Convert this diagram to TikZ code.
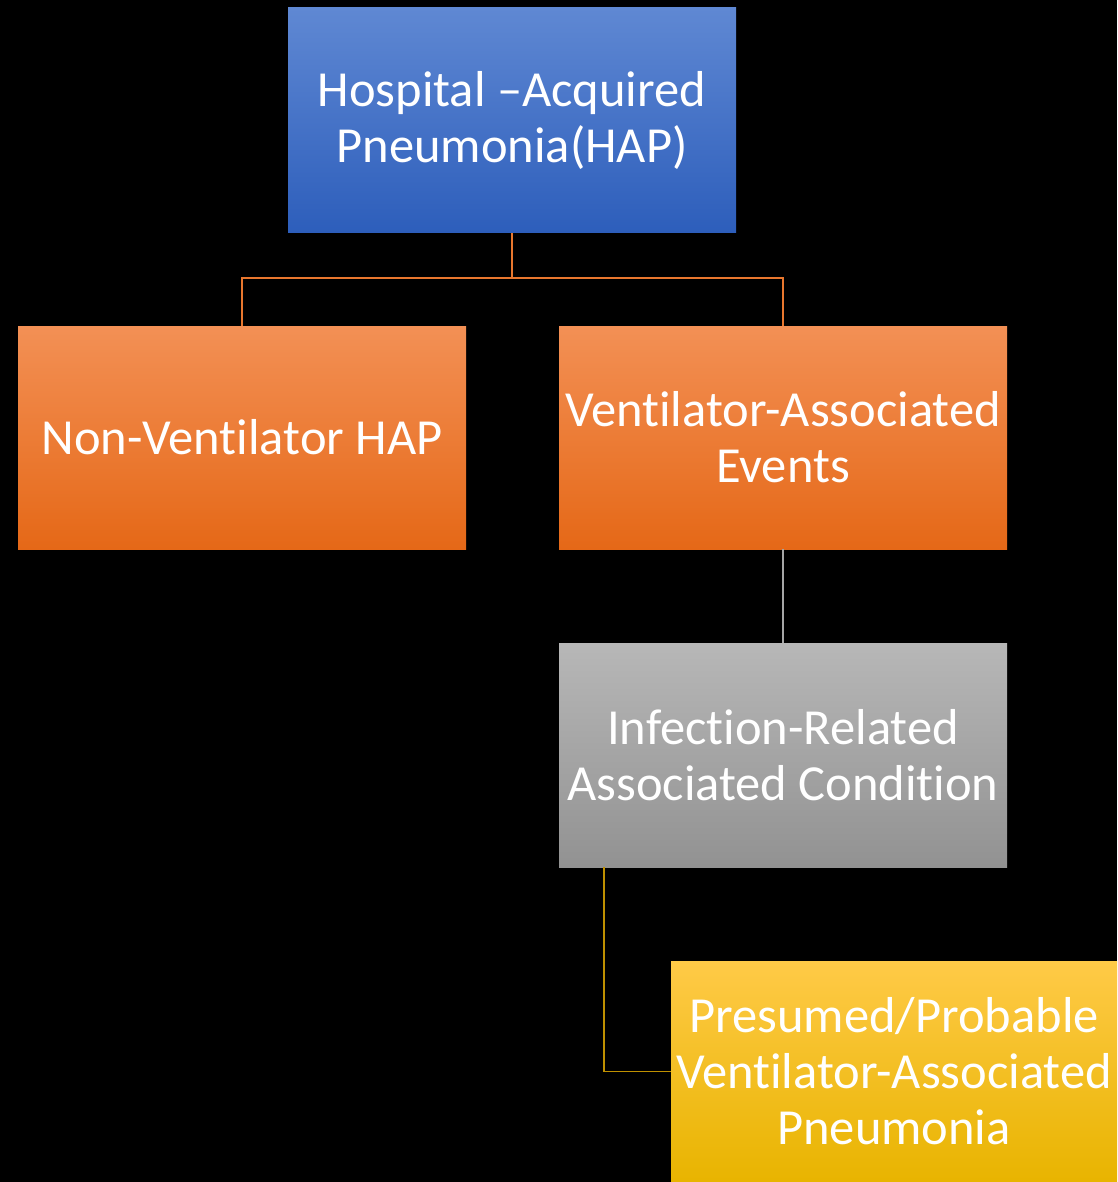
\documentclass[tikz,border=0pt]{standalone}
\usepackage{fontspec}
\setmainfont{Carlito}[Ligatures=NoCommon]
\definecolor{bluetop}{HTML}{5F88D3}
\definecolor{bluebot}{HTML}{2D5EBB}
\definecolor{orgtop}{HTML}{F39055}
\definecolor{orgbot}{HTML}{E56817}
\definecolor{graytop}{HTML}{B7B7B7}
\definecolor{graybot}{HTML}{929292}
\definecolor{yeltop}{HTML}{FFCA47}
\definecolor{yelmid}{HTML}{FDC50C}
\definecolor{yelbot}{HTML}{E8B400}
\definecolor{orgline}{HTML}{E8772E}
\definecolor{grayline}{HTML}{A5A5A5}
\definecolor{goldline}{HTML}{BF9000}
\tikzset{
  box/.style={rectangle, inner sep=0pt, text=white, align=center,
    font=\fontsize{50.5}{56}\selectfont, minimum width=448pt, minimum height=224pt},
  bluebox/.style={box, top color=bluetop, bottom color=bluebot},
  orgbox/.style={box, top color=orgtop, bottom color=orgbot},
  graybox/.style={box, top color=graytop, bottom color=graybot},
  yelbox/.style={box, top color=yeltop, middle color=yelmid, bottom color=yelbot},
  conn/.style={line width=1.5pt}
}
\begin{document}
\begin{tikzpicture}[x=1pt,y=-1pt]
\fill[black] (0,0) rectangle (1117,1182);
\useasboundingbox (0,0) rectangle (1117,1182);
\node[bluebox, minimum height=225pt] (hap) at (512,120.5) {Hospital --Acquired\\Pneumonia(HAP)};
\node[orgbox, minimum height=223pt] (nv) at (242,437.5) {Non-Ventilator HAP};
\node[orgbox, minimum height=223pt] (vae) at (783,437.5) {Ventilator-Associated\\Events};
\node[graybox] (irac) at (783,755) {Infection-Related\\Associated Condition};
\node[yelbox, minimum width=446pt, minimum height=221pt] (pvap) at (894,1071.5) {Presumed/Probable\\Ventilator-Associated\\Pneumonia};
\coordinate (bus) at (512,278);
\draw[conn, orgline] (hap.south) -- (bus) -| (nv.north);
\draw[conn, orgline] (bus) -| (vae.north);
\draw[conn, grayline] (vae.south) -- (irac.north);
\draw[conn, goldline] ([xshift=45pt]irac.south west) |- (pvap.west);
\end{tikzpicture}
\end{document}
